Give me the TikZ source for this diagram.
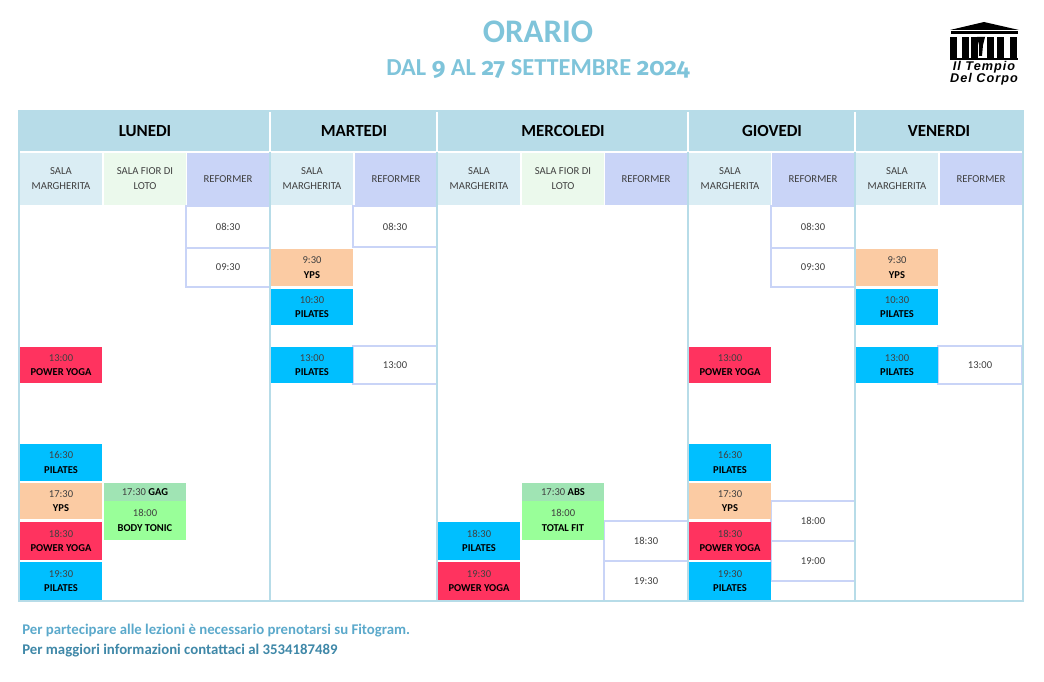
\documentclass[tikz,border=0pt]{standalone}
\usepackage{fontspec}
\setmainfont{Carlito}
\newfontfamily\logofont[LetterSpace=8]{Liberation Sans}
\newfontfamily\numeri[Numbers=OldStyle]{Fira Sans}
\definecolor{giorno}{HTML}{B7DCE8}
\definecolor{margherita}{HTML}{DAEDF4}
\definecolor{loto}{HTML}{EBF9EC}
\definecolor{reformer}{HTML}{C9D4F7}
\definecolor{pilates}{HTML}{00BFFF}
\definecolor{yps}{HTML}{FBCBA3}
\definecolor{power}{HTML}{FF335F}
\definecolor{tonic}{HTML}{99FF99}
\definecolor{gag}{HTML}{A0E4B4}
\definecolor{titolo}{HTML}{7FC4DA}
\definecolor{nota}{HTML}{5BA9CB}
\definecolor{info}{HTML}{3F88A8}
\begin{document}
\begin{tikzpicture}[x=0.75pt,y=-0.75pt,
    cella/.style={inner sep=0pt,minimum width=61.5pt,align=center,text=black,font=\fontsize{7.9}{11}\selectfont},
    sala/.style={cella,text=black!75,font=\fontsize{8}{11.2}\selectfont},
    giornata/.style={inner sep=0pt,font=\fontsize{12.7}{14}\selectfont\bfseries},
    ora/.style={cella,draw=reformer,line width=1.5pt,fill=white,text=black!75,minimum width=63pt},
    marchio/.style={anchor=base,inner sep=0pt,font=\logofont\fontsize{9.5}{10}\selectfont\bfseries\itshape},
    line/.style={giorno,line width=1.5pt}]
  \useasboundingbox (0,0) rectangle (1044,681);

  % titolo
  \node[text=titolo,font=\fontsize{24.7}{26}\selectfont\bfseries] (orario) at (538,32) {ORARIO};
  \node[text=titolo,font=\fontsize{18.3}{20}\selectfont\bfseries] (periodo) at (538,69)
    {DAL {\numeri 9} AL {\numeri 27} SETTEMBRE {\numeri 2024}};

  % logo
  \fill (984,22) -- (1019,30) -- (950,30) -- cycle;
  \fill (951,31) rectangle (1018,34);
  \foreach \x in {950,962,971,987,997,1010}
    \fill (\x,37) rectangle (\x+7,58);
  \fill (977,37) -- (985,37) -- (983,45) -- (982,56) -- (979,56) -- (979,45) -- cycle;
  \fill (950,58) rectangle (1018,60);
  \node[marchio] (tempio) at (984,70.5) {Il Tempio};
  \node[marchio] (corpo) at (984,83) {Del Corpo};

  % giorni
  \fill[giorno] (18,110) rectangle (1024,152);
  \foreach \x in {270,437,688,855}
    \draw[white,line width=1.5pt] (\x,112) -- (\x,152);
  \draw[white,line width=1.5pt] (20,152) -- (1022,152);
  \foreach \nome/\x in {LUNEDI/145,MARTEDI/354,MERCOLEDI/563,GIOVEDI/772,VENERDI/939}
    \node[giornata] (g\nome) at (\x,131) {\nome};

  % sale
  \foreach \x in {20,271,438,689,856}
    \node[sala,fill=margherita,minimum height=39pt] (m\x) at (\x+41,179) {SALA\\MARGHERITA};
  \foreach \x in {104,522}
    \node[sala,fill=loto,minimum height=39pt] (l\x) at (\x+41,179) {SALA FIOR DI\\LOTO};
  \foreach \x in {187,355,605,772,940}
    \node[sala,fill=reformer,minimum height=39pt] (r\x) at (\x+41,179) {REFORMER};

  % reformer
  \foreach \x/\ya/\yb/\hora in {187/206/248/08:30,187/248/287/09:30,354/206/247/08:30,354/346/384/13:00,
      605/521/561/18:30,605/561/601/19:30,772/206/248/08:30,772/248/287/09:30,772/501/541/18:00,
      772/541/581/19:00,939/346/384/13:00}
    \node[ora,minimum height={(\yb-\ya)*0.75pt}] (o\x-\ya) at ({\x+41},{(\ya+\yb)/2}) {\hora};

  % lezioni
  \foreach \x/\ya/\yb/\colore/\hora/\corso in {
      20/347/383/power/13:00/POWER YOGA,20/444/481/pilates/16:30/PILATES,20/483/519/yps/17:30/YPS,
      20/522/560/power/18:30/POWER YOGA,20/562/600/pilates/19:30/PILATES,104/501/540/tonic/18:00/BODY TONIC,
      271/249/286/yps/9:30/YPS,271/289/325/pilates/10:30/PILATES,271/347/383/pilates/13:00/PILATES,
      522/501/540/tonic/18:00/TOTAL FIT,438/522/560/pilates/18:30/PILATES,438/562/600/power/19:30/POWER YOGA,
      689/347/383/power/13:00/POWER YOGA,689/444/481/pilates/16:30/PILATES,689/483/519/yps/17:30/YPS,
      689/522/560/power/18:30/POWER YOGA,689/562/600/pilates/19:30/PILATES,
      856/249/286/yps/9:30/YPS,856/289/325/pilates/10:30/PILATES,856/347/383/pilates/13:00/PILATES}
    \node[cella,fill=\colore,minimum height={(\yb-\ya)*0.75pt}] (c\x-\ya) at ({\x+41},{(\ya+\yb)/2})
      {\textcolor{black!75}{\hora}\\\textbf{\corso}};
  \foreach \x/\corso in {104/GAG,522/ABS}
    \node[cella,fill=gag,minimum height=13.5pt] (c\x-483) at (\x+41,492) {\textcolor{black!75}{17:30} \textbf{\corso}};

  % linee
  \draw[line] (19,152) -- (19,601) -- (1023,601) -- (1023,152);
  \foreach \x in {270,437,688,855}
    \draw[line] (\x,152) -- (\x,601);

  % note
  \node[anchor=west,inner sep=0pt,text=nota,font=\fontsize{11.1}{13}\selectfont\bfseries] (nota1) at (22,631)
    {Per partecipare alle lezioni è necessario prenotarsi su Fitogram.};
  \node[anchor=west,inner sep=0pt,text=info,font=\fontsize{11.1}{13}\selectfont\bfseries] (nota2) at (22,651)
    {Per maggiori informazioni contattaci al 3534187489};
\end{tikzpicture}
\end{document}
